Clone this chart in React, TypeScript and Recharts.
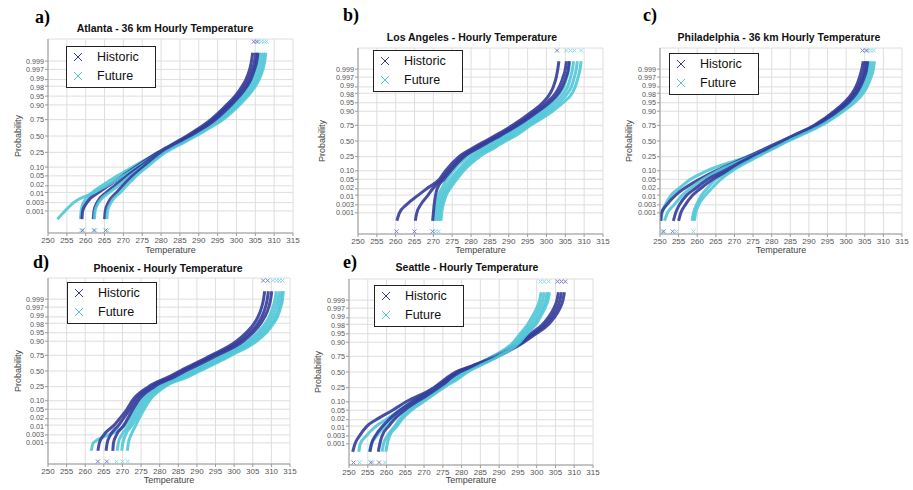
import React from "react";
import { ComposedChart, Line, Scatter, XAxis, YAxis, CartesianGrid } from "recharts";

document.body.style.margin = "0";

const HIST_COLOR = "#333b9a";
const FUT_COLOR = "#50c6d6";
const HIST_TAIL = "#7d82c4";
const FUT_TAIL = "#8fdbe4";

// probability level at which each line temperature is read
const PROB_LEVELS = [0.0003, 0.001, 0.003, 0.01, 0.02, 0.05, 0.1, 0.25, 0.4, 0.5, 0.6, 0.75, 0.9, 0.95, 0.98, 0.99, 0.997, 0.999, 0.9997];
const PROB_TICKS = [0.001, 0.003, 0.01, 0.02, 0.05, 0.1, 0.25, 0.5, 0.75, 0.9, 0.95, 0.98, 0.99, 0.997, 0.999];
const PROB_TICK_LABELS = ["0.001", "0.003", "0.01", "0.02", "0.05", "0.10", "0.25", "0.50", "0.75", "0.90", "0.95", "0.98", "0.99", "0.997", "0.999"];
const TEMP_TICKS = [250, 255, 260, 265, 270, 275, 280, 285, 290, 295, 300, 305, 310, 315];
const TAIL_LOW = 0.00005;
const TAIL_HIGH = 0.99995;

// Atlanta
const ATLANTA_HIST = [
  [259.0, 259.2, 260.3, 263.5, 266.0, 269.8, 273.2, 279.2, 284.0, 286.8, 289.4, 293.2, 297.4, 299.6, 301.5, 302.5, 303.5, 304.0, 304.3],
  [262.0, 262.2, 263.0, 265.5, 267.6, 271.0, 274.2, 279.8, 284.6, 287.3, 290.0, 293.8, 298.0, 300.2, 302.2, 303.2, 304.2, 304.8, 305.1],
  [265.0, 265.2, 266.0, 268.2, 269.8, 272.4, 275.2, 280.4, 285.2, 287.9, 290.6, 294.4, 298.6, 300.8, 302.8, 303.8, 304.8, 305.4, 305.7],
];
const ATLANTA_FUT = [
  [258.6, 258.8, 259.4, 261.8, 264.3, 268.4, 272.4, 279.4, 284.4, 287.4, 290.2, 294.6, 299.0, 301.2, 303.0, 304.0, 305.0, 305.5, 305.8],
  [252.5, 254.5, 256.8, 262.3, 265.6, 270.0, 273.7, 280.0, 285.0, 288.0, 290.8, 295.2, 299.6, 301.8, 303.7, 304.7, 305.7, 306.2, 306.5],
  [262.3, 262.5, 263.4, 266.3, 268.6, 271.8, 275.0, 280.6, 285.6, 288.6, 291.4, 295.8, 300.2, 302.4, 304.4, 305.4, 306.4, 306.9, 307.2],
  [265.6, 265.8, 266.7, 269.2, 270.8, 273.4, 276.2, 281.2, 286.2, 289.2, 292.0, 296.4, 300.8, 303.0, 305.0, 306.0, 307.0, 307.5, 307.8],
];
const ATLANTA_HIST_LOW = [259.2, 262.2, 265.3];
const ATLANTA_FUT_LOW = [258.8, 262.5, 265.8];
const ATLANTA_HIST_HIGH = [304.6, 305.4];
const ATLANTA_FUT_HIGH = [305.8, 306.6, 307.4, 308.0];

// Los Angeles
const LA_HIST = [
  [260.3, 261.0, 262.8, 266.0, 268.2, 271.6, 273.2, 276.8, 281.0, 283.8, 286.6, 291.0, 296.3, 299.0, 301.0, 301.8, 302.6, 303.0, 303.3],
  [265.2, 265.6, 266.6, 268.6, 269.8, 272.2, 274.0, 277.6, 281.8, 284.6, 287.4, 291.8, 297.2, 300.0, 302.4, 303.4, 304.4, 305.0, 305.3],
  [269.8, 270.0, 270.2, 270.6, 271.0, 272.8, 274.6, 278.2, 282.4, 285.2, 288.0, 292.4, 297.8, 300.8, 303.2, 304.2, 305.2, 305.8, 306.0],
];
const LA_FUT = [
  [270.2, 270.4, 270.8, 271.4, 272.2, 273.6, 275.2, 279.0, 283.4, 286.0, 288.8, 293.0, 298.6, 301.4, 303.6, 304.6, 305.4, 305.9, 306.2],
  [270.8, 271.0, 271.4, 272.2, 273.0, 274.6, 276.4, 280.2, 284.6, 287.2, 290.0, 294.0, 299.6, 302.4, 304.6, 305.6, 306.4, 306.9, 307.2],
  [271.4, 271.6, 272.0, 272.8, 273.8, 275.4, 277.2, 281.2, 285.6, 288.2, 291.0, 295.0, 300.6, 303.4, 305.6, 306.6, 307.4, 307.9, 308.2],
  [272.0, 272.2, 272.6, 273.4, 274.4, 276.2, 278.0, 282.2, 286.6, 289.2, 292.0, 295.8, 301.6, 304.4, 306.8, 307.6, 308.4, 308.9, 309.2],
];
const LA_HIST_LOW = [260.2, 265.0, 269.8];
const LA_FUT_LOW = [270.6, 271.4];
const LA_HIST_HIGH = [302.8];
const LA_FUT_HIGH = [305.2, 306.4, 307.4, 309.2];

// Philadelphia
const PHILLY_HIST = [
  [250.2, 250.4, 251.8, 254.2, 256.4, 260.6, 265.0, 273.6, 279.2, 282.6, 286.0, 291.4, 296.8, 299.4, 301.6, 302.6, 303.6, 304.2, 304.6],
  [253.6, 254.2, 255.2, 257.2, 259.4, 262.8, 267.2, 274.6, 280.0, 283.2, 286.6, 291.9, 297.3, 300.0, 302.2, 303.2, 304.3, 304.9, 305.2],
  [255.0, 255.6, 256.8, 258.8, 260.8, 264.2, 268.2, 275.0, 280.4, 283.6, 287.0, 292.3, 297.8, 300.6, 302.8, 303.8, 304.9, 305.5, 305.8],
];
const PHILLY_FUT = [
  [250.2, 250.6, 251.4, 253.0, 255.0, 258.2, 262.6, 273.4, 279.4, 282.8, 286.2, 291.8, 297.4, 300.2, 302.6, 303.6, 304.6, 305.2, 305.5],
  [251.2, 252.0, 253.8, 256.0, 258.0, 261.6, 265.6, 274.4, 280.0, 283.4, 286.8, 292.4, 298.0, 300.8, 303.2, 304.2, 305.3, 305.9, 306.2],
  [258.6, 259.0, 259.8, 261.2, 262.6, 265.0, 268.6, 275.6, 280.8, 284.0, 287.4, 292.9, 298.6, 301.6, 303.9, 304.9, 306.0, 306.6, 306.9],
  [259.2, 259.6, 260.4, 262.2, 263.8, 266.4, 269.4, 276.2, 281.4, 284.5, 287.9, 293.4, 299.2, 302.2, 304.6, 305.6, 306.7, 307.3, 307.6],
];
const PHILLY_HIST_LOW = [251.0, 253.4];
const PHILLY_FUT_LOW = [250.6, 254.4, 259.0];
const PHILLY_HIST_HIGH = [304.4, 305.4];
const PHILLY_FUT_HIGH = [305.8, 306.6, 307.4];

// Phoenix
const PHOENIX_HIST = [
  [263.4, 263.8, 265.0, 267.8, 269.2, 271.2, 272.6, 277.0, 282.4, 285.4, 288.6, 293.8, 300.6, 303.2, 305.4, 306.4, 307.4, 307.9, 308.2],
  [265.6, 265.9, 266.8, 269.0, 270.2, 272.0, 273.4, 277.8, 283.2, 286.2, 289.4, 294.6, 301.6, 304.2, 306.4, 307.4, 308.4, 308.9, 309.2],
  [267.4, 267.6, 268.4, 270.4, 271.4, 272.8, 274.2, 278.6, 284.0, 287.0, 290.2, 295.4, 302.4, 305.0, 307.2, 308.2, 309.3, 309.8, 310.1],
];
const PHOENIX_FUT = [
  [261.6, 262.2, 266.2, 270.8, 272.0, 273.4, 274.8, 279.4, 285.2, 288.4, 291.6, 296.8, 303.6, 306.2, 308.4, 309.4, 310.4, 311.0, 311.3],
  [268.6, 268.9, 269.8, 271.8, 272.8, 274.2, 275.6, 280.0, 286.0, 289.2, 292.4, 297.6, 304.4, 307.0, 309.2, 310.2, 311.2, 311.8, 312.1],
  [269.8, 270.1, 270.8, 272.6, 273.6, 275.0, 276.4, 280.8, 286.8, 290.0, 293.2, 298.4, 305.2, 307.8, 310.0, 311.0, 312.0, 312.5, 312.8],
  [271.3, 271.6, 272.3, 273.6, 274.4, 275.8, 277.2, 281.4, 287.6, 290.8, 294.0, 299.2, 306.0, 308.6, 310.6, 311.6, 312.5, 313.0, 313.2],
];
const PHOENIX_HIST_LOW = [263.4, 265.8];
const PHOENIX_FUT_LOW = [268.4, 270.0, 271.4];
const PHOENIX_HIST_HIGH = [307.8, 309.0];
const PHOENIX_FUT_HIGH = [310.4, 311.4, 312.2, 313.0];

// Seattle
const SEATTLE_HIST = [
  [251.0, 251.6, 252.8, 254.8, 257.2, 261.6, 265.2, 272.6, 276.0, 278.4, 282.6, 288.8, 295.4, 298.4, 301.6, 303.0, 304.6, 305.4, 305.8],
  [255.6, 256.0, 257.0, 259.0, 260.6, 263.6, 266.8, 273.4, 276.6, 279.0, 283.0, 289.2, 296.0, 299.2, 302.4, 303.8, 305.4, 306.2, 306.6],
  [257.8, 258.2, 258.8, 260.6, 262.0, 264.8, 268.0, 274.2, 277.2, 279.6, 283.4, 289.6, 296.6, 299.8, 303.2, 304.6, 306.2, 307.0, 307.4],
];
const SEATTLE_FUT = [
  [252.6, 253.0, 254.6, 257.2, 259.8, 263.4, 267.0, 272.6, 277.4, 280.0, 283.0, 288.2, 293.8, 295.6, 297.6, 298.6, 300.0, 300.8, 301.2],
  [255.4, 256.0, 257.4, 259.6, 261.4, 264.6, 268.0, 273.6, 278.2, 280.6, 283.6, 288.8, 294.4, 296.2, 298.4, 299.4, 300.8, 301.6, 302.0],
  [258.8, 259.2, 260.2, 262.2, 263.4, 265.8, 269.0, 274.6, 278.8, 281.2, 284.2, 289.4, 295.0, 296.8, 299.2, 300.2, 301.6, 302.4, 302.8],
  [259.8, 260.2, 260.8, 262.8, 264.0, 266.6, 269.8, 275.2, 279.4, 281.6, 284.6, 289.9, 295.5, 297.4, 299.8, 300.8, 302.2, 303.0, 303.4],
];
const SEATTLE_HIST_LOW = [251.2, 255.8, 258.0];
const SEATTLE_FUT_LOW = [252.8, 256.2, 259.6];
const SEATTLE_HIST_HIGH = [305.6, 306.6, 307.6];
const SEATTLE_FUT_HIGH = [301.0, 302.0, 303.2];

// normal probability axis: inverse normal CDF (Acklam)
function probit(p: number): number {
  const a = [-39.69683028665376, 220.9460984245205, -275.9285104469687, 138.357751867269, -30.66479806614716, 2.506628277459239];
  const b = [-54.47609879822406, 161.5858368580409, -155.6989798598866, 66.80131188771972, -13.28068155288572];
  const c = [-0.007784894002430293, -0.3223964580411365, -2.400758277161838, -2.549732539343734, 4.374664141464968, 2.938163982698783];
  const d = [0.007784695709041462, 0.3224671290700398, 2.445134137142996, 3.754408661907416];
  const plow = 0.02425;
  if (p < plow) {
    const q = Math.sqrt(-2 * Math.log(p));
    return (((((c[0] * q + c[1]) * q + c[2]) * q + c[3]) * q + c[4]) * q + c[5]) / ((((d[0] * q + d[1]) * q + d[2]) * q + d[3]) * q + 1);
  }
  if (p <= 1 - plow) {
    const q = p - 0.5;
    const r = q * q;
    return ((((((a[0] * r + a[1]) * r + a[2]) * r + a[3]) * r + a[4]) * r + a[5]) * q) / (((((b[0] * r + b[1]) * r + b[2]) * r + b[3]) * r + b[4]) * r + 1);
  }
  const q = Math.sqrt(-2 * Math.log(1 - p));
  return -(((((c[0] * q + c[1]) * q + c[2]) * q + c[3]) * q + c[4]) * q + c[5]) / ((((d[0] * q + d[1]) * q + d[2]) * q + d[3]) * q + 1);
}

const Z_TICKS = PROB_TICKS.map(probit);

function tickIndex(v: number) {
  let best = 0;
  Z_TICKS.forEach((z, i) => {
    if (Math.abs(z - v) < Math.abs(Z_TICKS[best] - v)) best = i;
  });
  return best;
}

// crowded pairs (0.02/0.01 and 0.99/0.98) are nudged apart a little
const LABEL_NUDGE: Record<string, number> = { "0.02": -1.2, "0.01": 1.2, "0.99": -1.2, "0.98": 1.2 };

const ProbTick = (props: any) => {
  const { x, y, payload } = props;
  const label = PROB_TICK_LABELS[tickIndex(payload.value)];
  return (
    <text x={x} y={y + (LABEL_NUDGE[label] || 0)} dy="0.36em" textAnchor="end" fontSize={7.2} fill="#555">
      {label}
    </text>
  );
};

const toPoints = (temps: number[]) => temps.map((t, i) => ({ t, z: probit(PROB_LEVELS[i]) }));
const tailPoints = (temps: number[], p: number) => temps.map((t) => ({ t, z: probit(p) }));

const Cross = (props: any) => {
  const { cx, cy, fill } = props;
  if (cx == null || cy == null) return null;
  const s = 2;
  return (
    <g>
      <line x1={cx - s} y1={cy - s} x2={cx + s} y2={cy + s} stroke={fill} strokeWidth={1} />
      <line x1={cx - s} y1={cy + s} x2={cx + s} y2={cy - s} stroke={fill} strokeWidth={1} />
    </g>
  );
};

const PANELS = [
  {
    letter: "a)", title: "Atlanta - 36 km Hourly Temperature",
    plot: { x0: 48, x1: 293, y0: 39, y1: 233 }, letterPos: [35, 17], titlePos: [165, 28], legendPos: [66, 46], probX: 18, tempY: 250,
    hist: ATLANTA_HIST, fut: ATLANTA_FUT, histLow: ATLANTA_HIST_LOW, futLow: ATLANTA_FUT_LOW, histHigh: ATLANTA_HIST_HIGH, futHigh: ATLANTA_FUT_HIGH,
  },
  {
    letter: "b)", title: "Los Angeles - Hourly Temperature",
    plot: { x0: 358, x1: 603, y0: 48, y1: 234 }, letterPos: [343, 15], titlePos: [472, 37], legendPos: [373, 50], probX: 322, tempY: 250,
    hist: LA_HIST, fut: LA_FUT, histLow: LA_HIST_LOW, futLow: LA_FUT_LOW, histHigh: LA_HIST_HIGH, futHigh: LA_FUT_HIGH,
  },
  {
    letter: "c)", title: "Philadelphia - 36 km Hourly Temperature",
    plot: { x0: 660, x1: 902, y0: 48, y1: 234 }, letterPos: [643, 15], titlePos: [779, 37], legendPos: [669, 53], probX: 629, tempY: 250,
    hist: PHILLY_HIST, fut: PHILLY_FUT, histLow: PHILLY_HIST_LOW, futLow: PHILLY_FUT_LOW, histHigh: PHILLY_HIST_HIGH, futHigh: PHILLY_FUT_HIGH,
  },
  {
    letter: "d)", title: "Phoenix - Hourly Temperature",
    plot: { x0: 48, x1: 290, y0: 278, y1: 464 }, letterPos: [33, 262], titlePos: [168, 268], legendPos: [67, 282], probX: 18, tempY: 480,
    hist: PHOENIX_HIST, fut: PHOENIX_FUT, histLow: PHOENIX_HIST_LOW, futLow: PHOENIX_FUT_LOW, histHigh: PHOENIX_HIST_HIGH, futHigh: PHOENIX_FUT_HIGH,
  },
  {
    letter: "e)", title: "Seattle - Hourly Temperature",
    plot: { x0: 349, x1: 593, y0: 279, y1: 465 }, letterPos: [343, 262], titlePos: [467, 267], legendPos: [374, 285], probX: 318, tempY: 480,
    hist: SEATTLE_HIST, fut: SEATTLE_FUT, histLow: SEATTLE_HIST_LOW, futLow: SEATTLE_FUT_LOW, histHigh: SEATTLE_HIST_HIGH, futHigh: SEATTLE_FUT_HIGH,
  },
];

const Y_AXIS_W = 40;
const TOP_PAD = 4;
const RIGHT_PAD = 12;
const X_AXIS_H = 14;

function LegendBox({ x, y }: { x: number; y: number }) {
  const row = (color: string, label: string, cy: number) => (
    <div style={{ position: "absolute", left: 0, top: cy - 8, height: 16, width: "100%" }}>
      <svg width={14} height={16} style={{ position: "absolute", left: 4, top: 0 }}>
        <line x1={3} y1={4} x2={11} y2={12} stroke={color} strokeWidth={1} />
        <line x1={3} y1={12} x2={11} y2={4} stroke={color} strokeWidth={1} />
      </svg>
      <span style={{ position: "absolute", left: 30, top: 0, fontSize: 12.5, lineHeight: "16px", color: "#111" }}>{label}</span>
    </div>
  );
  return (
    <div style={{ position: "absolute", left: x, top: y, width: 88, height: 40, border: "1px solid #222", background: "#fff", zIndex: 2 }}>
      {row(HIST_COLOR, "Historic", 10)}
      {row(FUT_COLOR, "Future", 29)}
    </div>
  );
}

function Panel({ cfg }: { cfg: (typeof PANELS)[number] }) {
  const { plot } = cfg;
  const width = Y_AXIS_W + (plot.x1 - plot.x0) + RIGHT_PAD;
  const height = TOP_PAD + (plot.y1 - plot.y0) + X_AXIS_H;
  const lines: { key: string; color: string; data: { t: number; z: number }[] }[] = [];
  const n = Math.max(cfg.hist.length, cfg.fut.length);
  for (let i = 0; i < n; i++) {
    if (cfg.fut[i]) lines.push({ key: "f" + i, color: FUT_COLOR, data: toPoints(cfg.fut[i]) });
    if (cfg.hist[i]) lines.push({ key: "h" + i, color: HIST_COLOR, data: toPoints(cfg.hist[i]) });
  }
  return (
    <>
      <div style={{ position: "absolute", left: plot.x0 - Y_AXIS_W, top: plot.y0 - TOP_PAD }}>
        <ComposedChart width={width} height={height} margin={{ top: TOP_PAD, right: RIGHT_PAD, bottom: 0, left: 0 }}>
          <CartesianGrid stroke="#dedede" strokeWidth={1} />
          <XAxis
            type="number"
            dataKey="t"
            domain={[250, 315]}
            ticks={TEMP_TICKS}
            interval={0}
            allowDataOverflow
            height={X_AXIS_H}
            tickSize={3}
            tickMargin={1}
            tick={{ fontSize: 8, fill: "#555" }}
            stroke="#999"
          />
          <YAxis
            type="number"
            dataKey="z"
            domain={[-4, 4]}
            ticks={Z_TICKS}
            interval={0}
            allowDataOverflow
            width={Y_AXIS_W}
            tickSize={3}
            tickMargin={1}
            tick={<ProbTick />}
            stroke="#999"
          />
          {lines.map((l) => (
            <Line
              key={l.key}
              data={l.data}
              dataKey="z"
              type="monotone"
              stroke={l.color}
              strokeWidth={3}
              strokeOpacity={0.9}
              dot={false}
              activeDot={false}
              isAnimationActive={false}
            />
          ))}
          <Scatter data={tailPoints(cfg.futLow, TAIL_LOW)} fill={FUT_TAIL} shape={Cross} isAnimationActive={false} />
          <Scatter data={tailPoints(cfg.histLow, TAIL_LOW)} fill={HIST_TAIL} shape={Cross} isAnimationActive={false} />
          <Scatter data={tailPoints(cfg.futHigh, TAIL_HIGH)} fill={FUT_TAIL} shape={Cross} isAnimationActive={false} />
          <Scatter data={tailPoints(cfg.histHigh, TAIL_HIGH)} fill={HIST_TAIL} shape={Cross} isAnimationActive={false} />
        </ComposedChart>
      </div>
      <div style={{ position: "absolute", left: cfg.letterPos[0], top: cfg.letterPos[1] - 10, fontFamily: "'Liberation Serif', 'Times New Roman', serif", fontWeight: 700, fontSize: 18, lineHeight: "20px" }}>
        {cfg.letter}
      </div>
      <div style={{ position: "absolute", left: cfg.titlePos[0] - 150, width: 300, top: cfg.titlePos[1] - 7, textAlign: "center", fontWeight: 700, fontSize: 10.5, lineHeight: "14px", color: "#111" }}>
        {cfg.title}
      </div>
      <div style={{ position: "absolute", left: plot.x0, width: plot.x1 - plot.x0, top: cfg.tempY - 6, textAlign: "center", fontSize: 9, lineHeight: "12px", color: "#444" }}>
        Temperature
      </div>
      <div
        style={{
          position: "absolute",
          left: cfg.probX - 40,
          width: 80,
          top: (plot.y0 + plot.y1) / 2 - 6,
          textAlign: "center",
          fontSize: 9,
          lineHeight: "12px",
          color: "#444",
          transform: "rotate(-90deg)",
        }}
      >
        Probability
      </div>
      <LegendBox x={cfg.legendPos[0]} y={cfg.legendPos[1]} />
    </>
  );
}

export default function App() {
  return (
    <div style={{ position: "relative", width: 913, height: 490, background: "#fff", fontFamily: "'Liberation Sans', Arial, sans-serif", overflow: "hidden" }}>
      {PANELS.map((p) => (
        <Panel key={p.letter} cfg={p} />
      ))}
    </div>
  );
}
